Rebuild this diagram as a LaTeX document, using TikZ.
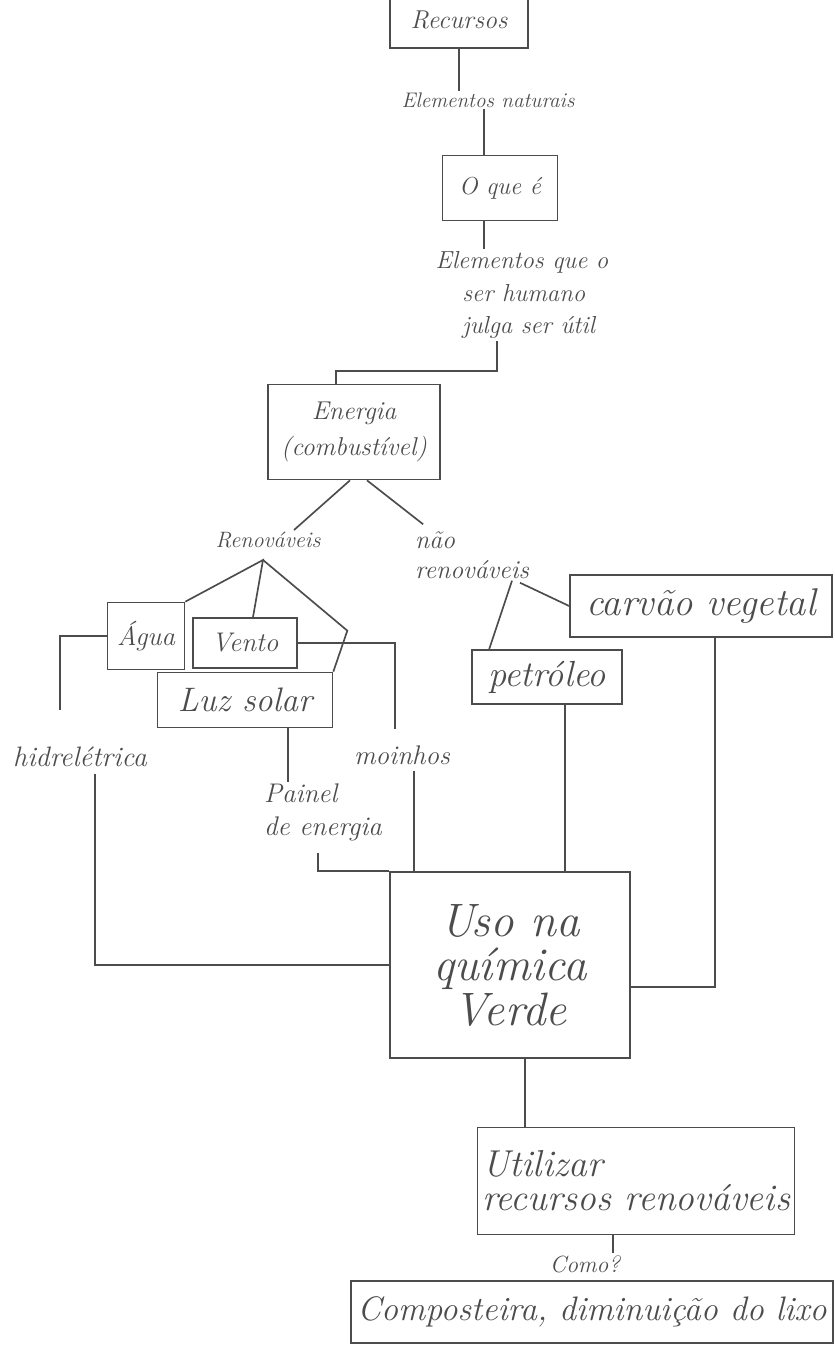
\documentclass[tikz,border=0pt]{standalone}
\usetikzlibrary{calc}
\definecolor{tinta}{rgb}{0.3,0.3,0.3}
\newcommand{\tamanho}[2]{\fontsize{#1pt}{#2pt}\selectfont\itshape}
\begin{document}
\begin{tikzpicture}[x=0.3mm,y=-0.3mm,line width=0.5mm,tinta,
  caixa/.style 2 args={draw,rectangle,align=center,inner sep=0pt,minimum width=#1,minimum height=#2},
  rotulo/.style={align=center,inner sep=1pt}]
  \useasboundingbox (0,0) rectangle (835,1349);

  % caixas e textos (coordenadas em pixels da folha)
  \node[caixa={41.4mm}{16.8mm},font=\tamanho{22}{24}] (rec) at (459,20) {Recursos};
  \node[rotulo,font=\tamanho{18}{22}] (elnat) at (488,100) {Elementos naturais};
  \node[caixa={34.5mm}{19.5mm},font=\tamanho{21}{22}] (oque) at (500,188) {O que é};
  \node[rotulo,align=left,font=\tamanho{21}{28}] (elque) at (522,295) {Elementos que o\\\hspace*{8mm}ser humano\\\hspace*{8mm}julga ser útil};
  \node[caixa={51.6mm}{28.5mm},font=\tamanho{22}{30}] (energia) at (354,432) {Energia\\(combustível)};
  \node[rotulo,font=\tamanho{19}{20}] (renov) at (268,540) {Renováveis};
  \node[rotulo,align=left,font=\tamanho{22}{26}] (naorenov) at (472,555) {não\\renováveis};

  % renováveis
  \node[caixa={23.1mm}{20.1mm},font=\tamanho{23}{26}] (agua) at (146,636) {Água};
  \node[caixa={31.2mm}{15mm},font=\tamanho{23}{26}] (vento) at (245,643) {Vento};
  \node[caixa={52.5mm}{16.5mm},font=\tamanho{29}{32}] (luz) at (245,700) {Luz solar};
  \node[rotulo,font=\tamanho{24}{28}] (hidro) at (80,757) {hidrelétrica};
  \node[rotulo,font=\tamanho{23}{26}] (moinhos) at (402,755) {moinhos};
  \node[rotulo,align=left,font=\tamanho{23}{28}] (painel) at (323,812) {Painel\\de energia};

  % não renováveis
  \node[caixa={78.6mm}{18.6mm},font=\tamanho{33}{36}] (carvao) at (701,606) {carvão vegetal};
  \node[caixa={45mm}{16.2mm},font=\tamanho{31}{34}] (petroleo) at (547,677) {petróleo};

  % parte de baixo
  \node[caixa={72mm}{55.8mm},font=\tamanho{40}{38}] (uso) at (510,965) {Uso na\\química\\Verde};
  \node[caixa={95.1mm}{32.1mm},align=left,font=\tamanho{32}{29}] (utilizar) at (636,1181) {Utilizar\\recursos renováveis};
  \node[rotulo,font=\tamanho{20}{22}] (como) at (585,1264) {Como?};
  \node[caixa={144.6mm}{18.6mm},font=\tamanho{29}{32}] (compost) at (592,1312) {Composteira, diminuição do lixo};

  % ligações
  \draw (rec.south) -- (rec.south |- elnat.north);
  \coordinate (l1) at ($(oque.north)+(-16,0)$);
  \draw (l1) -- (l1 |- elnat.south);
  \coordinate (l2) at ($(oque.south)+(-16,0)$);
  \draw (l2) -- (l2 |- elque.north);
  \coordinate (l3) at ($(elque.south)+(-25,0)$);
  \coordinate (e1) at ($(energia.north)+(-18,0)$);
  \draw (l3) |- ($(e1)+(0,-13)$) -- (e1);
  \draw ($(energia.south)+(-4,0)$) -- ($(renov.north)+(26,0)$);
  \draw ($(energia.south)+(13,0)$) -- ($(naorenov.north west)+(10,-5)$);

  \coordinate (rv) at ($(renov.south)+(-5,10)$);
  \coordinate (rb) at ($(luz.north east)+(14,-41)$);
  \draw (agua.north east) -- (rv) -- ($(vento.north)+(8,0)$);
  \draw (rv) -- (rb) -- (luz.north east);
  \draw (agua.west) -| ($(hidro.north)+(-20,-35)$);
  \draw (vento.east) -| ($(moinhos.north)+(-7,-15)$);
  \coordinate (p1) at ($(luz.south)+(43,0)$);
  \draw (p1) -- (p1 |- painel.north);

  \draw ($(naorenov.south)+(40,0)$) -- ($(petroleo.north west)+(18,0)$);
  \draw ($(naorenov.south)+(48,2)$) -- (carvao.west);

  \coordinate (h1) at ($(hidro.south)+(15,5)$);
  \draw (h1) |- (uso.west);
  \coordinate (p2) at ($(painel.south)+(-5,10)$);
  \draw (p2) |- (uso.north west);
  \coordinate (m1) at ($(moinhos.south)+(12,5)$);
  \draw (m1) -- (m1 |- uso.north);
  \coordinate (pt1) at ($(petroleo.south)+(18,0)$);
  \draw (pt1) -- (pt1 |- uso.north);
  \coordinate (cv1) at ($(carvao.south)+(14,0)$);
  \draw (cv1) |- ($(uso.east)+(0,22)$);

  \coordinate (u1) at ($(uso.south)+(15,0)$);
  \draw (u1) -- (u1 |- utilizar.north);
  \coordinate (t1) at ($(utilizar.south)+(-23,0)$);
  \draw (t1) -- (t1 |- como.north);
\end{tikzpicture}
\end{document}
